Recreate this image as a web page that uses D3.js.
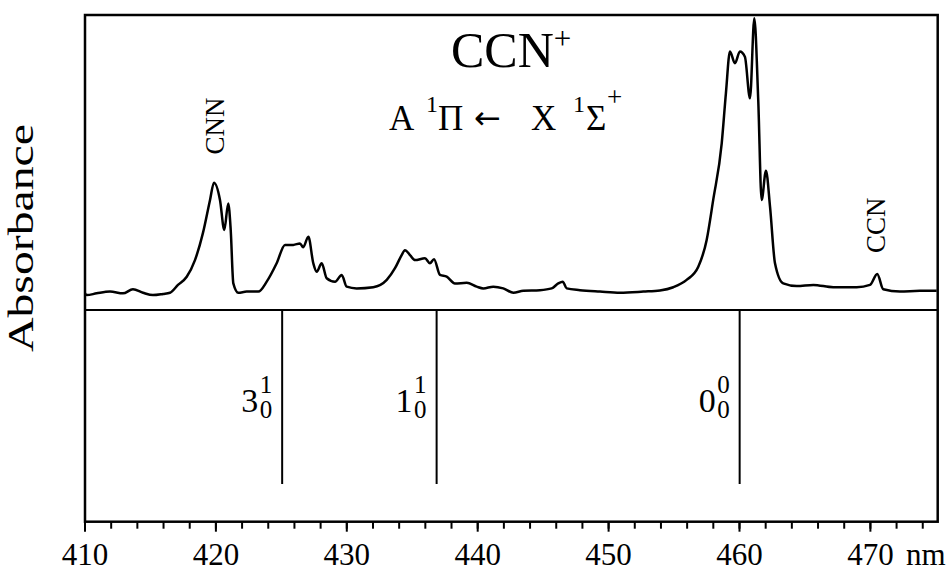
<!DOCTYPE html>
<html>
<head>
<meta charset="utf-8">
<script src="https://cdn.jsdelivr.net/npm/d3@7"></script>
<style>
  body { margin: 0; background: #fff; }
  text { font-family: "Liberation Serif", "DejaVu Serif", serif; fill: #000; }
</style>
</head>
<body>
<div id="chart"></div>
<script>
// spectrum: wavelength (nm) and relative absorbance
var wavelength = [410.04, 410.17, 410.93, 411.95, 412.94, 413.70, 414.47, 415.23, 416.00, 416.53,
  417.14, 417.81, 418.44, 419.05, 419.59, 419.89, 420.35, 420.68, 420.98, 421.17,
  421.37, 421.75, 422.39, 423.28, 423.92, 424.68, 425.32, 425.95, 426.46, 426.71,
  427.10, 427.48, 427.74, 428.12, 428.50, 429.14, 429.65, 430.03, 430.79, 432.06,
  433.09, 433.72, 434.23, 434.48, 434.87, 435.25, 436.01, 436.39, 436.70, 437.16,
  437.67, 438.30, 439.20, 439.96, 440.47, 441.23, 441.99, 442.76, 443.52, 444.79,
  445.69, 446.19, 446.53, 446.84, 447.85, 449.38, 450.91, 452.69, 453.96, 454.98,
  456.00, 456.89, 457.53, 458.03, 458.68, 459.00, 459.31, 459.69, 460.07, 460.45,
  460.84, 461.17, 461.47, 461.73, 462.06, 462.37, 462.75, 463.38, 464.41, 465.68,
  467.20, 468.99, 470.01, 470.56, 471.02, 472.29, 473.82, 475.10];
var absorbance = [0.057, 0.051, 0.057, 0.063, 0.057, 0.071, 0.059, 0.051, 0.055, 0.059,
  0.086, 0.114, 0.171, 0.264, 0.377, 0.436, 0.377, 0.274, 0.365, 0.274,
  0.091, 0.059, 0.063, 0.063, 0.097, 0.160, 0.223, 0.223, 0.228, 0.215,
  0.251, 0.160, 0.131, 0.160, 0.109, 0.097, 0.120, 0.080, 0.074, 0.078,
  0.103, 0.143, 0.188, 0.205, 0.188, 0.171, 0.177, 0.160, 0.174, 0.120,
  0.114, 0.091, 0.093, 0.080, 0.074, 0.080, 0.074, 0.059, 0.066, 0.068,
  0.074, 0.091, 0.097, 0.074, 0.068, 0.063, 0.059, 0.063, 0.067, 0.078,
  0.103, 0.148, 0.240, 0.377, 0.571, 0.742, 0.885, 0.845, 0.885, 0.867,
  0.725, 0.999, 0.719, 0.377, 0.477, 0.354, 0.160, 0.091, 0.082, 0.086,
  0.078, 0.078, 0.086, 0.123, 0.071, 0.063, 0.066, 0.066];

// band origins drawn as sticks in the lower panel
var bandPos = [425.1, 436.9, 460.05];
var bandMain = ["3", "1", "0"];
var bandSup = ["1", "1", "0"];
var bandSub = ["0", "0", "0"];

// molecule labels on the spectrum
var molLabels = ["CNN", "CCN"];
var molPos = [420.0, 470.5];
var molLevel = [0.63, 0.29];

var majorTicks = [410, 420, 430, 440, 450, 460, 470];

var width = 951, height = 570;
var frameL = 85, frameR = 937.7, frameT = 15, split = 310, frameB = 521.7;

var svg = d3.select("#chart").append("svg")
  .attr("width", width)
  .attr("height", height);

var x = d3.scaleLinear()
  .domain([410, 475.18])
  .range([frameL - 0.5, frameR]);

var y = d3.scaleLinear()
  .domain([0, 1])
  .range([split, 18]);

// frame and the divider between spectrum and stick panel
svg.append("rect")
  .attr("x", frameL).attr("y", frameT)
  .attr("width", frameR - frameL).attr("height", frameB - frameT)
  .attr("fill", "none").attr("stroke", "#000").attr("stroke-width", 2.5);

svg.append("line")
  .attr("x1", frameL).attr("x2", frameR)
  .attr("y1", split).attr("y2", split)
  .attr("stroke", "#000").attr("stroke-width", 2);

// x axis: minor ticks every 2 nm, labelled ticks every 10 nm
var minorAxis = d3.axisBottom(x)
  .tickValues(d3.range(410, 476, 2))
  .tickSize(7).tickSizeOuter(0)
  .tickFormat("");
var majorAxis = d3.axisBottom(x)
  .tickValues(majorTicks)
  .tickSize(10).tickSizeOuter(0)
  .tickPadding(11)
  .tickFormat(d3.format("d"));

[minorAxis, majorAxis].forEach(function(ax) {
  var g = svg.append("g")
    .attr("transform", "translate(0," + frameB + ")")
    .call(ax)
    .attr("font-family", "Liberation Serif")
    .attr("font-size", 31);
  g.select(".domain").remove();
  g.selectAll(".tick line").attr("stroke", "#000").attr("stroke-width", 2);
  g.selectAll(".tick text").attr("fill", "#000");
});

svg.append("text")
  .attr("x", x(470) + 36)
  .attr("y", 564.5)
  .style("font-size", "31px")
  .text("nm");

// spectrum trace
var pts = wavelength.map(function(w, i) { return [w, absorbance[i]]; });
var line = d3.line()
  .curve(d3.curveMonotoneX)
  .x(function(d) { return x(d[0]); })
  .y(function(d) { return y(d[1]); });

svg.append("path")
  .datum(pts)
  .attr("d", line)
  .attr("fill", "none")
  .attr("stroke", "#000")
  .attr("stroke-width", 2.5)
  .attr("stroke-linejoin", "round");

// sticks and their labels
var sticks = svg.selectAll(".band")
  .data(bandPos)
  .enter().append("g")
  .attr("class", "band");

sticks.append("line")
  .attr("x1", function(d) { return x(d); })
  .attr("x2", function(d) { return x(d); })
  .attr("y1", split)
  .attr("y2", 484)
  .attr("stroke", "#000")
  .attr("stroke-width", 2);

sticks.append("text")
  .attr("x", function(d) { return x(d) - 24; })
  .attr("y", 412)
  .attr("text-anchor", "end")
  .style("font-size", "34px")
  .text(function(d, i) { return bandMain[i]; });

sticks.append("text")
  .attr("x", function(d) { return x(d) - 10; })
  .attr("y", 393)
  .attr("text-anchor", "end")
  .style("font-size", "25px")
  .text(function(d, i) { return bandSup[i]; });

sticks.append("text")
  .attr("x", function(d) { return x(d) - 10; })
  .attr("y", 418)
  .attr("text-anchor", "end")
  .style("font-size", "25px")
  .text(function(d, i) { return bandSub[i]; });

// CNN / CCN side labels, rotated
svg.selectAll(".mol")
  .data(molLabels)
  .enter().append("text")
  .attr("class", "mol")
  .attr("transform", function(d, i) {
    return "translate(" + (x(molPos[i]) + 9) + "," + y(molLevel[i]) + ") rotate(-90)";
  })
  .attr("text-anchor", "middle")
  .style("font-size", "27px")
  .text(function(d) { return d; });

// title
var title = svg.append("text")
  .attr("x", 451)
  .attr("y", 67)
  .style("font-size", "50px");
title.append("tspan").text("CCN");
title.append("tspan").attr("dy", -18).style("font-size", "31px").text("+");

// transition label, pieces placed where the picture has them
var sub = svg.append("g").style("font-size", "35px");
var subParts = [
  { t: "A", x: 389, y: 130 },
  { t: "1", x: 426, y: 112, s: 24 },
  { t: "\u03A0", x: 438, y: 130 },
  { t: "\u2190", x: 474, y: 129, f: "DejaVu Sans", s: 32 },
  { t: "X", x: 531, y: 130 },
  { t: "1", x: 573, y: 112, s: 24 },
  { t: "\u03A3", x: 586, y: 130 },
  { t: "+", x: 607, y: 106, s: 27 }
];
sub.selectAll("text")
  .data(subParts)
  .enter().append("text")
  .attr("x", function(d) { return d.x; })
  .attr("y", function(d) { return d.y; })
  .style("font-size", function(d) { return d.s ? d.s + "px" : null; })
  .style("font-family", function(d) { return d.f || null; })
  .text(function(d) { return d.t; });

// y axis label
svg.append("text")
  .attr("transform", "translate(33,238) rotate(-90)")
  .attr("text-anchor", "middle")
  .attr("textLength", 228)
  .attr("lengthAdjust", "spacingAndGlyphs")
  .style("font-size", "35px")
  .text("Absorbance");
</script>
</body>
</html>
